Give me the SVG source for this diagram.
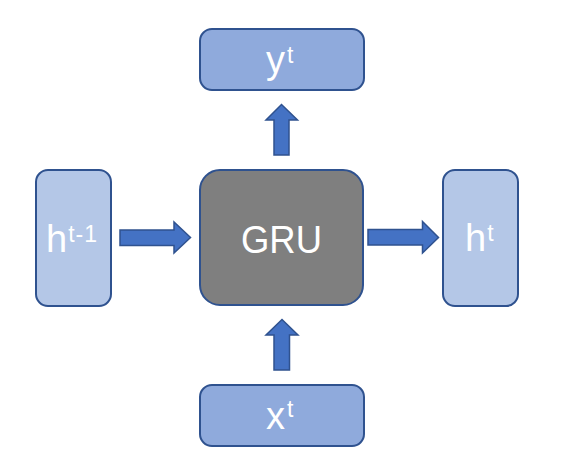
<svg xmlns="http://www.w3.org/2000/svg" width="569" height="471" viewBox="0 0 569 471">
<style>
.io{fill:#8FAADC;stroke:#2F528F;stroke-width:2}
.hb{fill:#B4C7E7;stroke:#2F528F;stroke-width:2}
.core{fill:#7F7F7F;stroke:#2F528F;stroke-width:2}
.arr{fill:#4472C4;stroke:#2F528F;stroke-width:1.5}
.t{fill:#FFFFFF;font-family:"Liberation Sans","Open Sans",sans-serif;font-size:38px}
.s{font-size:23px}
</style>
<rect width="569" height="471" fill="#FFFFFF"/>
<g id="connectors">
<polygon class="arr" points="274,155 274,120 266,120 281.5,104.5 297.5,120 289,120 289,155"/>
<polygon class="arr" points="274,370 274,335 266,335 282,319.5 298,335 289.5,335 289.5,370"/>
<polygon class="arr" points="120,230 174,230 174,222 190.5,237.5 174,253 174,245.5 120,245.5"/>
<polygon class="arr" points="368,229.5 422.5,229.5 422.5,221.5 438.5,237.5 422.5,253 422.5,245 368,245"/>
</g>
<g id="node-yt">
<rect class="io" x="200" y="29" width="164" height="61" rx="12"/>
<text class="t" x="266" y="73">y<tspan class="s" dx="2" dy="-10">t</tspan></text>
</g>
<g id="node-ht-1">
<rect class="hb" x="36" y="170" width="75" height="136" rx="12"/>
<text class="t" x="46" y="252">h<tspan class="s" dx="1" dy="-10" letter-spacing="1">t-1</tspan></text>
</g>
<g id="node-gru">
<rect class="core" x="200" y="170" width="163" height="135" rx="20"/>
<text class="t" x="281.5" y="253" text-anchor="middle" textLength="81" lengthAdjust="spacingAndGlyphs">GRU</text>
</g>
<g id="node-ht">
<rect class="hb" x="443" y="170" width="75" height="136" rx="12"/>
<text class="t" x="465" y="251">h<tspan class="s" dx="1" dy="-10">t</tspan></text>
</g>
<g id="node-xt">
<rect class="io" x="200" y="385" width="164" height="61" rx="12"/>
<text class="t" x="266" y="429">x<tspan class="s" dx="2" dy="-12">t</tspan></text>
</g>
</svg>
